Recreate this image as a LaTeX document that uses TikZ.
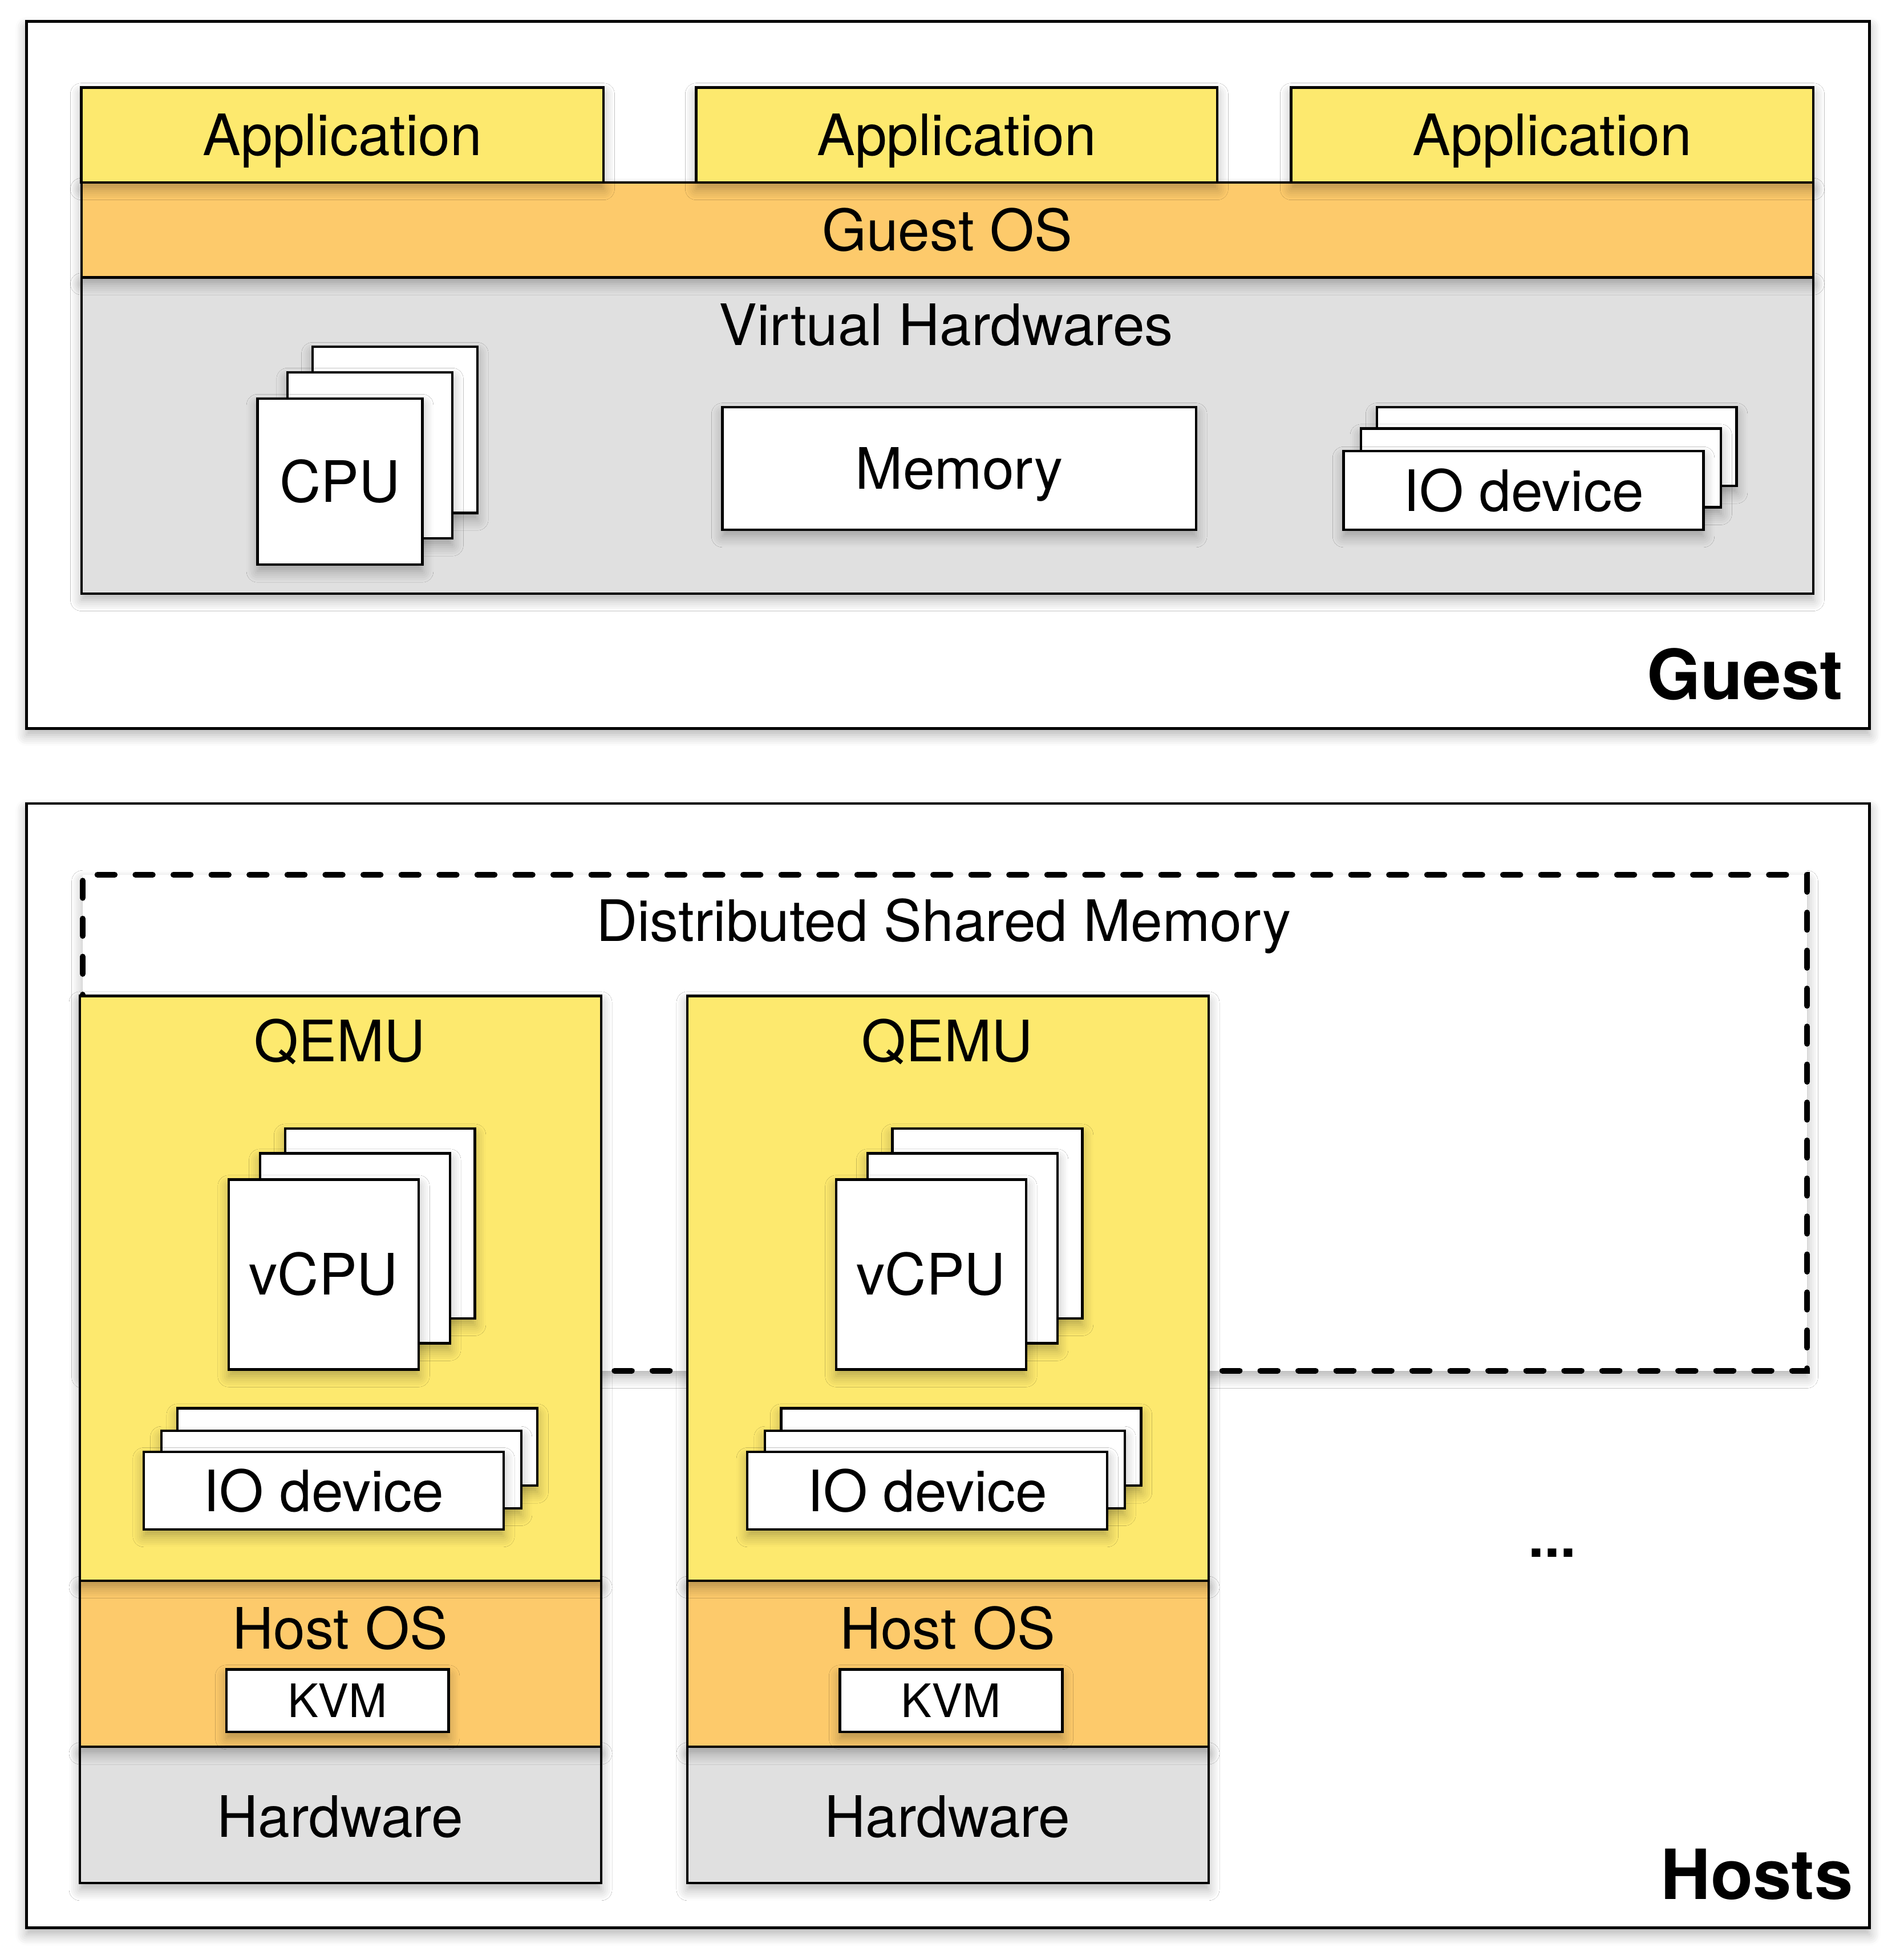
\documentclass[tikz,border=0pt]{standalone}
\usepackage{fontspec}
\setmainfont{TeX Gyre Heros}
\usetikzlibrary{shadows.blur}

\definecolor{appyellow}{RGB}{253,233,110}
\definecolor{osorange}{RGB}{253,202,107}
\definecolor{hwgray}{RGB}{224,224,224}

\tikzset{
	soft/.style={blur shadow={shadow xshift=0pt, shadow yshift=-3pt, shadow blur radius=5pt, shadow blur steps=6, shadow opacity=30}},
	box/.style={draw=black, line width=1.1pt, inner sep=0pt, text height=18.7pt, text depth=0pt, font=\fontsize{26}{30}\selectfont, soft},
	kvmbox/.style={box, text height=15.1pt, font=\fontsize{21}{25}\selectfont},
	lbl/.style={inner sep=0pt, text height=18.7pt, text depth=0pt, font=\fontsize{26}{30}\selectfont},
	title/.style={inner sep=0pt, anchor=east, text height=22.6pt, text depth=0pt, font=\fontsize{31.5}{36}\selectfont\bfseries},
}

\begin{document}
\begin{tikzpicture}[x=0.02cm, y=-0.02cm]
			\useasboundingbox (0,0) rectangle (1517,1568.6);

			% GUEST
			\node[box, fill=white, line width=1.2pt, minimum width=29.5cm, minimum height=11.32cm] (guest) at (758.5,300) {};
			\node[title] (tguest) at (1475,540) {Guest};

			% virtual hardwares
			\node[box, fill=hwgray, minimum width=27.72cm, minimum height=5.06cm] (vhw) at (758,348.5) {};
			\node[lbl] (tvhw) at (757,260) {Virtual Hardwares};

			\node[box, fill=white, minimum width=2.64cm, minimum height=2.66cm] (cpu3) at (316,344) {};
			\node[box, fill=white, minimum width=2.64cm, minimum height=2.66cm] (cpu2) at (296,364.5) {};
			\node[box, fill=white, minimum width=2.64cm, minimum height=2.66cm] (cpu1) at (272,385.5) {CPU};

			\node[box, fill=white, minimum width=7.58cm, minimum height=1.96cm] (mem) at (767.5,375) {Memory};

			\node[box, fill=white, minimum width=5.76cm, minimum height=1.26cm] (io3) at (1245.5,357.5) {};
			\node[box, fill=white, minimum width=5.76cm, minimum height=1.26cm] (io2) at (1233,374.5) {};
			\node[box, fill=white, minimum width=5.76cm, minimum height=1.26cm] (io1) at (1219,392.5) {IO device};

			% guest os + applications
			\node[box, fill=osorange, minimum width=27.72cm, minimum height=1.52cm] (gos) at (758,184) {Guest OS};
			\node[box, fill=appyellow, minimum width=8.36cm, minimum height=1.52cm] (app1) at (274,108) {Application};
			\node[box, fill=appyellow, minimum width=8.34cm, minimum height=1.52cm] (app2) at (765.5,108) {Application};
			\node[box, fill=appyellow, minimum width=8.36cm, minimum height=1.52cm] (app3) at (1242,108) {Application};

			% HOSTS
			\node[box, fill=white, line width=1.2pt, minimum width=29.5cm, minimum height=18cm] (hosts) at (758.5,1093) {};
			\node[title] (thosts) at (1483,1500) {Hosts};

			% distributed shared memory
			\node[box, fill=white, dash pattern=on 7.9pt off 9.4pt, line cap=round, line width=2.6pt, minimum width=27.6cm, minimum height=7.94cm] (dsm) at (756,898.5) {};
			\node[lbl] (tdsm) at (755,737) {Distributed Shared Memory};

			% host 1
			\node[box, fill=hwgray, minimum width=8.34cm, minimum height=2.18cm] (hw1) at (272.5,1452.5) {};
			\node[lbl] (thw1) at (272,1454) {Hardware};
			\node[box, fill=osorange, minimum width=8.34cm, minimum height=2.66cm] (hos1) at (272.5,1331.5) {};
			\node[lbl] (thos1) at (272,1303) {Host OS};
			\node[kvmbox, fill=white, minimum width=3.56cm, minimum height=1.0cm] (kvm1) at (270,1361) {KVM};
			\node[box, fill=appyellow, minimum width=8.34cm, minimum height=9.36cm] (qemu1) at (272.5,1031) {};
			\node[lbl] (tqemu1) at (272,833) {QEMU};

			\node[box, fill=white, minimum width=3.04cm, minimum height=3.04cm] (vcpu13) at (304,979) {};
			\node[box, fill=white, minimum width=3.04cm, minimum height=3.04cm] (vcpu12) at (284,999) {};
			\node[box, fill=white, minimum width=3.04cm, minimum height=3.04cm] (vcpu11) at (259,1020) {vCPU};

			\node[box, fill=white, minimum width=5.76cm, minimum height=1.24cm] (hio13) at (286,1158) {};
			\node[box, fill=white, minimum width=5.76cm, minimum height=1.24cm] (hio12) at (273,1176) {};
			\node[box, fill=white, minimum width=5.76cm, minimum height=1.24cm] (hio11) at (259,1193) {IO device};

			% host 2
			\node[box, fill=hwgray, minimum width=8.34cm, minimum height=2.18cm] (hw2) at (758.5,1452.5) {};
			\node[lbl] (thw2) at (758,1454) {Hardware};
			\node[box, fill=osorange, minimum width=8.34cm, minimum height=2.66cm] (hos2) at (758.5,1331.5) {};
			\node[lbl] (thos2) at (758,1303) {Host OS};
			\node[kvmbox, fill=white, minimum width=3.56cm, minimum height=1.0cm] (kvm2) at (761,1361) {KVM};
			\node[box, fill=appyellow, minimum width=8.34cm, minimum height=9.36cm] (qemu2) at (758.5,1031) {};
			\node[lbl] (tqemu2) at (758,833) {QEMU};

			\node[box, fill=white, minimum width=3.04cm, minimum height=3.04cm] (vcpu23) at (790,979) {};
			\node[box, fill=white, minimum width=3.04cm, minimum height=3.04cm] (vcpu22) at (770,999) {};
			\node[box, fill=white, minimum width=3.04cm, minimum height=3.04cm] (vcpu21) at (745,1020) {vCPU};

			\node[box, fill=white, minimum width=5.76cm, minimum height=1.24cm] (hio23) at (769,1158) {};
			\node[box, fill=white, minimum width=5.76cm, minimum height=1.24cm] (hio22) at (756,1176) {};
			\node[box, fill=white, minimum width=5.76cm, minimum height=1.24cm] (hio21) at (742,1193) {IO device};

			% more hosts
			\node[lbl, anchor=base, font=\fontsize{26}{30}\selectfont\bfseries] (more) at (1242,1246) {...};
		\end{tikzpicture}
\end{document}
